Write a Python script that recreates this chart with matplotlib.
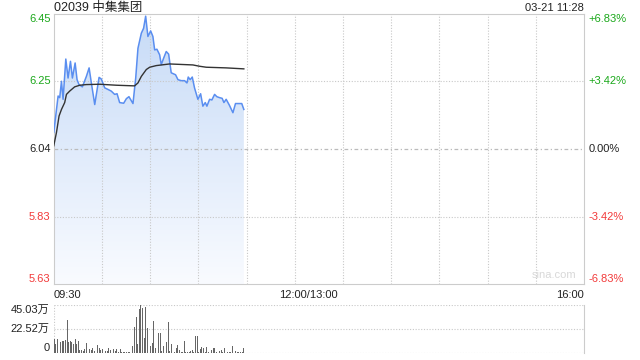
import numpy as np
import matplotlib
matplotlib.use('Agg')
import matplotlib.pyplot as plt
from matplotlib.colors import LinearSegmentedColormap
from matplotlib.patches import Polygon

plt.rcParams['font.family'] = ['Liberation Sans', 'Noto Sans CJK SC', 'DejaVu Sans']

codigo = '02039 中集集团'
fecha = '03-21 11:28'
cierre_prev = 6.04

# minutos desde las 09:30
t_precio = [0, 2.7, 3.7, 4.8, 5.8, 7.5, 8.9, 10.4, 11.6, 13.3, 14.5, 15.7, 17.8, 20.3,
            22.0, 23.4, 25.5, 28.2, 29.6, 31.7, 33.8, 35.8, 37.9, 39.4, 41.0, 43.5,
            45.2, 46.8, 49.3, 51.0, 52.4, 54.5, 55.9, 57.2, 58.6, 60.3, 61.7, 62.8,
            64.2, 65.9, 66.9, 68.4, 70.0, 71.5, 73.1, 75.8, 77.3, 79.3, 81.4, 82.9,
            83.7, 84.9, 86.2, 87.6, 89.7, 91.4, 92.8, 94.3, 95.3, 97.0, 98.4, 100.1,
            101.5, 103.2, 104.8, 105.9, 107.3, 109.4, 111.5, 113.1, 115.2, 117.0, 118.3]
precio = [6.091, 6.202, 6.197, 6.247, 6.192, 6.315, 6.257, 6.308, 6.257, 6.303, 6.252,
          6.237, 6.230, 6.262, 6.288, 6.242, 6.176, 6.259, 6.254, 6.227, 6.222, 6.217,
          6.207, 6.209, 6.182, 6.180, 6.194, 6.200, 6.179, 6.257, 6.348, 6.394, 6.409,
          6.446, 6.384, 6.401, 6.384, 6.343, 6.345, 6.328, 6.298, 6.318, 6.338, 6.330,
          6.273, 6.267, 6.252, 6.249, 6.249, 6.242, 6.260, 6.252, 6.260, 6.227, 6.192,
          6.209, 6.171, 6.182, 6.171, 6.192, 6.190, 6.207, 6.200, 6.197, 6.195, 6.182,
          6.192, 6.173, 6.151, 6.179, 6.179, 6.179, 6.161]

t_media = [0, 1.7, 3.3, 4.8, 6.8, 7.9, 9.9, 13.0, 16.2, 20.3, 28.6, 39.0, 50.3, 52.4,
           54.5, 57.6, 59.7, 63.8, 72.1, 86.6, 90.7, 94.9, 107.3, 118.3]
media = [6.050, 6.091, 6.141, 6.161, 6.182, 6.207, 6.217, 6.230, 6.235, 6.237, 6.238,
         6.235, 6.233, 6.242, 6.262, 6.283, 6.290, 6.295, 6.300, 6.297, 6.293, 6.290,
         6.288, 6.285]

# volumen por minuto (万)
volumen = [13.1, 8.0, 13.1, 16.9, 10.0, 11.6, 11.6, 11.9, 30.9, 10.1, 11.0, 10.4, 8.6,
           13.4, 8.6, 11.0, 3.0, 3.0, 2.1, 4.0, 8.9, 3.0, 3.6, 3.0, 4.8, 2.1, 3.0, 7.1,
           4.5, 3.0, 3.6, 4.8, 1.5, 1.5, 4.8, 3.0, 1.2, 3.6, 2.0, 3.6, 1.2, 3.6, 0.6,
           1.2, 0.6, 1.2, 0.6, 1.2, 0.3, 6.5, 24.4, 33.3, 8.0, 41.3, 45.0, 42.2, 14.0,
           42.8, 22.9, 5.0, 6.5, 8.9, 30.3, 4.2, 3.6, 19.0, 19.0, 2.1, 6.5, 3.6, 10.1,
           28.8, 2.1, 8.0, 3.0, 1.2, 4.5, 7.1, 3.0, 1.2, 1.2, 11.0, 0.6, 0.6, 1.2, 2.1,
           3.0, 0.6, 15.4, 15.4, 1.2, 3.6, 5.6, 5.0, 0.6, 5.6, 1.2, 0.6, 2.7, 4.2, 4.8,
           1.2, 0.6, 1.5, 2.7, 1.2, 4.5, 2.1, 1.2, 1.2, 0.6, 6.5, 1.5, 2.1, 1.2, 1.2,
           1.2, 0.6, 4.5]
vol_max = 45.03

pcts = [0.0683, 0.0342, 0.0, -0.0342, -0.0683]
verde = '#1aa81a'
rojo = '#f23a3a'
gris = '#cccccc'
punteado = (0, (1, 1.5))
total_min = 330

fig = plt.figure(figsize=(6.4, 3.6), dpi=100)
ax = fig.add_axes([0.084, 0.211, 0.8285, 0.75])
axv = fig.add_axes([0.084, 0.0195, 0.8285, 0.134])

y_min = cierre_prev * (1 + pcts[-1])
y_max = cierre_prev * (1 + pcts[0])
ax.set_xlim(0, total_min)
ax.set_ylim(y_min, y_max)

# relleno con degradado
cmap = LinearSegmentedColormap.from_list('azul', ['#f9fbff', '#c7dbf7'])
grad = ax.imshow(np.linspace(0, 1, 256).reshape(-1, 1), cmap=cmap, origin='lower',
                 extent=[0, max(t_precio), y_min, max(precio)], aspect='auto', zorder=1)
verts = list(zip(t_precio, precio)) + [(t_precio[-1], y_min), (t_precio[0], y_min)]
poly = Polygon(verts, closed=True, facecolor='none', edgecolor='none')
ax.add_patch(poly)
grad.set_clip_path(poly)

ax.plot(t_precio, precio, color='#5a8ef0', lw=1.1, zorder=3)
ax.plot(t_media, media, color='#333333', lw=1.0, zorder=4)

# rejilla
for m in range(30, total_min, 30):
    ax.axvline(m, color='#c8c8c8', lw=0.8, ls=punteado, zorder=2)
for p in pcts[1:-1]:
    y = cierre_prev * (1 + p)
    if p == 0:
        ax.axhline(y, color='#bbbbbb', lw=0.9, ls=(0, (3, 2, 1, 2)), zorder=2)
    else:
        ax.axhline(y, color='#c8c8c8', lw=0.8, ls=punteado, zorder=2)

for s in ax.spines.values():
    s.set_color(gris)
ax.set_xticks([])
ax.set_yticks([])

# etiquetas de precio y porcentaje
for i, p in enumerate(pcts):
    y = cierre_prev * (1 + p)
    col = verde if p > 0 else (rojo if p < 0 else '#222222')
    va = 'top' if i == 0 else ('bottom' if i == len(pcts) - 1 else 'center')
    ax.text(-0.006, y, f'{y:.2f}', transform=ax.get_yaxis_transform(), ha='right',
            va=va, color=col, fontsize=8)
    lab = f'{p * 100:+.2f}%' if p != 0 else '0.00%'
    ax.text(1.008, y, lab, transform=ax.get_yaxis_transform(), ha='left',
            va=va, color=col, fontsize=8)

ax.text(0, 1.024, codigo, transform=ax.transAxes, ha='left', va='center',
        fontsize=9, color='#222222', family=['Liberation Sans', 'Noto Sans CJK SC'])
ax.text(1, 1.024, fecha, transform=ax.transAxes, ha='right', va='center',
        fontsize=8, color='#222222')
ax.text(0.985, 0.015, 'sina.com', transform=ax.transAxes, ha='right', va='bottom',
        fontsize=8, color='#d8d8d8')

ax.annotate('09:30', (0, 0), xycoords=('data', 'axes fraction'), xytext=(0, -4),
            textcoords='offset points', ha='left', va='top', fontsize=8, color='#222222')
ax.annotate('12:00/13:00', (150, 0), xycoords=('data', 'axes fraction'), xytext=(10, -4),
            textcoords='offset points', ha='center', va='top', fontsize=8, color='#222222')
ax.annotate('16:00', (total_min, 0), xycoords=('data', 'axes fraction'), xytext=(0, -4),
            textcoords='offset points', ha='right', va='top', fontsize=8, color='#222222')

# volumen
axv.bar(np.arange(len(volumen)), volumen, width=0.55, color='#666666', zorder=3)
axv.set_xlim(-0.3, total_min)
axv.set_ylim(0, vol_max)
for v in [vol_max, vol_max / 2, 0]:
    axv.axhline(v, color='#c8c8c8', lw=0.8, ls=punteado, zorder=1)
axv.axvline(-0.3, color='#c8c8c8', lw=0.8, ls=punteado, zorder=1)
for s in axv.spines.values():
    s.set_visible(False)
axv.spines['right'].set_visible(True)
axv.spines['right'].set_color(gris)
axv.set_xticks([])
axv.set_yticks([])
for v, lab, va in [(vol_max, '45.03万', 'top'), (vol_max / 2, '22.52万', 'center'),
                   (0, '0', 'bottom')]:
    axv.text(-0.008, v, lab, transform=axv.get_yaxis_transform(), ha='right',
             va=va, fontsize=8, color='#222222',
             family=['Liberation Sans', 'Noto Sans CJK SC'])

fig.savefig('out.png', dpi=100)
